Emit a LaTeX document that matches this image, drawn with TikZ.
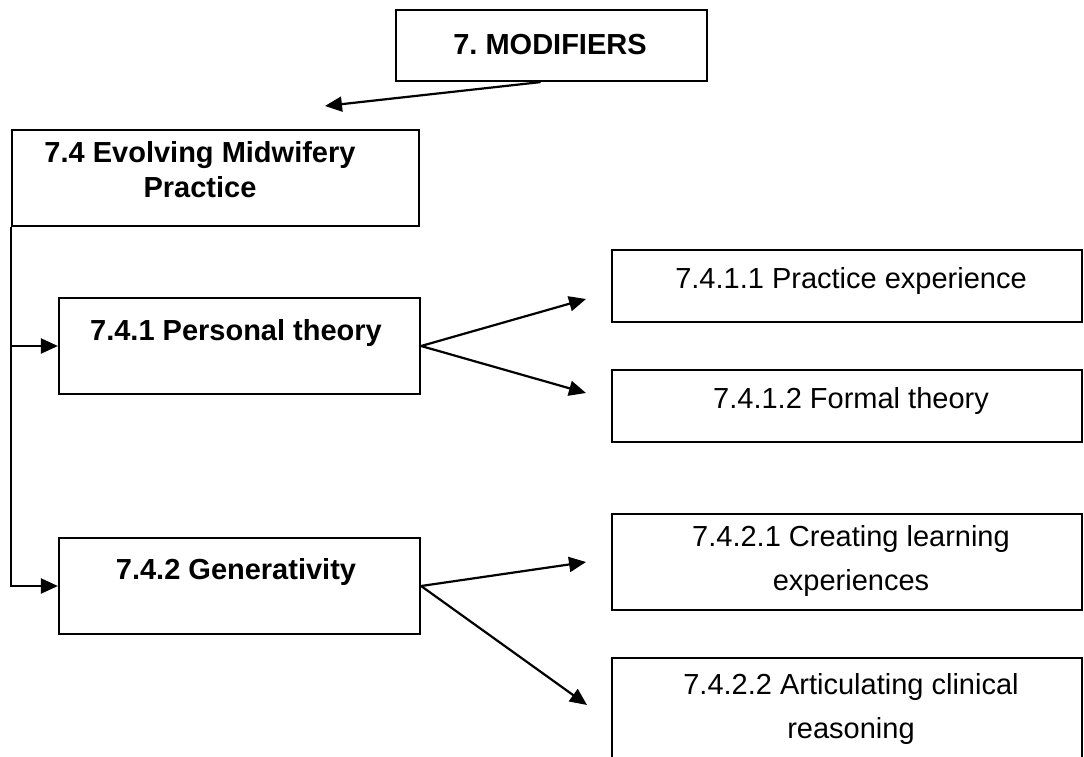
\documentclass[tikz,border=0pt]{standalone}
\usepackage{fontspec}
\setmainfont{Liberation Sans}
\usetikzlibrary{arrows.meta}
\frenchspacing
\begin{document}
\begin{tikzpicture}[x=1pt,y=-1pt,
  box/.style={draw, line width=2.2pt, rectangle, inner sep=0pt},
  btxt/.style={anchor=base, inner sep=0pt, font=\fontsize{29}{35}\selectfont\bfseries, align=center},
  ntxt/.style={anchor=base, inner sep=0pt, font=\fontsize{29}{44}\selectfont, align=center},
  arr/.style={-{Triangle[length=17pt,width=15pt]}, line width=2.2pt}]
\clip (0,0) rectangle (1084,757);
% boxes
\node[box, minimum width=311pt, minimum height=71pt] (mod) at (551.5,45.5) {};
\node[box, minimum width=407pt, minimum height=96pt] (evo) at (215.5,178) {};
\node[box, minimum width=361pt, minimum height=96pt] (per) at (239.5,346) {};
\node[box, minimum width=361pt, minimum height=96pt] (gen) at (239.5,586) {};
\node[box, minimum width=470pt, minimum height=72pt] (p1) at (847,286) {};
\node[box, minimum width=470pt, minimum height=72pt] (p2) at (847,406) {};
\node[box, minimum width=470pt, minimum height=96pt] (g1) at (847,562) {};
\node[box, minimum width=470pt, minimum height=132pt] (g2) at (847,724) {};
% texts
\node[btxt] (modt) at (550,55) {7. MODIFIERS};
\node[btxt] (evot) at (200,197) {7.4 Evolving Midwifery\\Practice};
\node[btxt] (pert) at (236,340) {7.4.1 Personal theory};
\node[btxt] (gent) at (236,579) {7.4.2 Generativity};
\node[ntxt] (p1t) at (851,288) {7.4.1.1 Practice experience};
\node[ntxt] (p2t) at (851,408) {7.4.1.2 Formal theory};
\node[ntxt] (g1t) at (851,590) {7.4.2.1 Creating learning\\experiences};
\node[ntxt] (g2t) at (851,738) {7.4.2.2 Articulating clinical\\reasoning};
% free ends
\coordinate (t0) at (325,106);
\coordinate (t1) at (586,299);
\coordinate (t2) at (586,393);
\coordinate (t3) at (586,562);
\coordinate (t4) at (587,705);
% connectors
\draw[arr] ([xshift=-11pt]mod.south) -- (t0);
\draw[arr] (evo.south west) |- (per.west);
\draw[arr] (evo.south west) |- (gen.west);
\draw[arr] (per.east) -- (t1);
\draw[arr] (per.east) -- (t2);
\draw[arr] (gen.east) -- (t3);
\draw[arr] (gen.east) -- (t4);
\end{tikzpicture}
\end{document}
